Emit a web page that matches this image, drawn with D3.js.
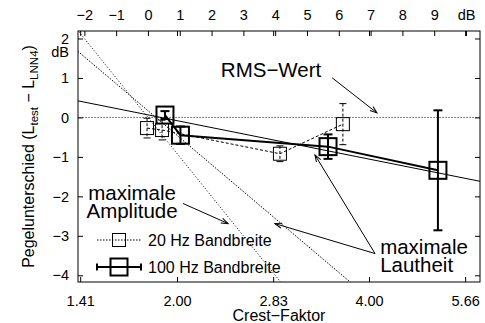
<!DOCTYPE html>
<html>
<head>
<meta charset="utf-8">
<script src="https://cdn.jsdelivr.net/npm/d3@7"></script>
<style>
  body { margin: 0; background: #fff; }
  svg { display: block; font-family: "Liberation Sans", Arial, sans-serif; }
</style>
</head>
<body>
<svg id="chart" width="485" height="323"></svg>
<script>
/* measured points: crest factor, level difference (dB), half error bar */
const cf20 = [1.795, 1.895, 2.90, 3.64]
const diff20 = [-0.27, -0.32, -0.92, -0.17]
const err20 = [0.25, 0.25, 0.2, 0.52]
const cf100 = [1.915, 2.025, 3.45, 5.13]
const diff100 = [0.06, -0.45, -0.74, -1.34]
const err100 = [0.1, 0.22, 0.31, 1.52]

/* model lines, x in dB on the top axis */
const rmsLine = [[-3, 0], [11, 0]]
const amplitudeLine = [[-3, 3], [6, -6]]
const loudnessLine20 = [[-3, 2.22], [7, -4.61]]
const loudnessLine100 = [[-2.2, 0.42], [10.45, -1.62]]

/* ticks */
const cfTicks = [1.41, 2.00, 2.83, 4.00, 5.66]
const dbTicks = d3.range(-2, 11)
const yTicks = d3.range(-4, 3)

/* annotations, anchored in data units (top dB, level dB) */
const notes = [
  { lines: ["RMS−Wert"], d: 3.87, v: 1.03, anchor: "middle" },
  { lines: ["maximale", "Amplitude"], d: -0.5, v: -2.10, anchor: "middle" },
  { lines: ["maximale", "Lautheit"], d: 7.30, v: -3.45, anchor: "start" }
]
const arrows = [
  [[5.79, 1.005], [7.2, 0.115]],
  [[1.10, -2.18], [2.52, -2.69]],
  [[7.14, -3.45], [3.99, -2.69]],
  [[7.14, -3.45], [5.25, -0.95]]
]

const marginTop = 31
const marginRight = 5
const marginBottom = 41
const marginLeft = 78
const width = 485
const height = 323

const svg = d3.select("#chart")

const x = d3.scaleLog([Math.SQRT2, 4 * Math.SQRT2], [81, 465])
const xDb = d3.scaleLinear([-2.2, 10.44], [marginLeft, width - marginRight])
const y = d3.scaleLinear([-4.17, 2.19], [height - marginBottom, marginTop])

svg.append("clipPath")
  .attr("id", "cut")
  .append("rect")
  .attr("x", marginLeft)
  .attr("y", marginTop)
  .attr("width", width - marginLeft - marginRight)
  .attr("height", height - marginTop - marginBottom)

const marker = svg.append("defs").append("marker")
  .attr("id", "arr")
  .attr("viewBox", "-9 -5 10 10")
  .attr("refX", 0).attr("refY", 0)
  .attr("markerWidth", 10).attr("markerHeight", 10)
  .attr("markerUnits", "userSpaceOnUse")
  .attr("orient", "auto")
marker.append("path")
  .attr("d", "M-7,-2.5L0,0L-7,2.5")
  .attr("fill", "none")
  .attr("stroke", "black")
  .attr("stroke-width", 1)

const fontTick = 14.5

/* axes: ticks point inward, domain drawn by frame */
function styleAxis(g) {
  g.select(".domain").remove()
  g.selectAll(".tick line").attr("stroke", "black")
  g.selectAll(".tick text").attr("font-size", fontTick).attr("font-family", null).attr("fill", "black")
}

svg.append("g")
  .attr("transform", `translate(0,${height - marginBottom})`)
  .call(d3.axisBottom(x).tickValues(cfTicks).tickSize(-5).tickFormat(d3.format(".2f")))
  .call(styleAxis)
  .call(g => g.selectAll(".tick text").attr("y", 24).attr("dy", 0))

svg.append("g")
  .attr("transform", `translate(0,${marginTop})`)
  .call(d3.axisTop(x).tickValues(cfTicks).tickSize(-5).tickFormat(""))
  .call(styleAxis)

svg.append("g")
  .attr("transform", `translate(0,${marginTop})`)
  .call(d3.axisTop(xDb).tickValues(dbTicks).tickSize(-5)
    .tickFormat(d => d === 10 ? "dB" : d3.format("d")(d)))
  .call(styleAxis)
  .call(g => g.selectAll(".tick text").attr("y", -11).attr("dy", 0))

svg.append("g")
  .attr("transform", `translate(${marginLeft},0)`)
  .call(d3.axisLeft(y).tickValues(yTicks).tickSize(-5).tickPadding(9).tickFormat(d3.format("d")))
  .call(styleAxis)

svg.append("g")
  .attr("transform", `translate(${width - marginRight},0)`)
  .call(d3.axisRight(y).tickValues(yTicks).tickSize(-5).tickFormat(""))
  .call(styleAxis)

svg.append("text")
  .attr("x", marginLeft - 9)
  .attr("y", y(2) + 19)
  .attr("text-anchor", "end")
  .attr("font-size", fontTick)
  .text("dB")

svg.append("rect")
  .attr("x", marginLeft)
  .attr("y", marginTop)
  .attr("width", width - marginLeft - marginRight)
  .attr("height", height - marginTop - marginBottom)
  .attr("fill", "none")
  .attr("stroke", "black")
  .attr("stroke-width", 1)

/* axis titles */
svg.append("text")
  .attr("x", (marginLeft + width - marginRight) / 2)
  .attr("y", 320.5)
  .attr("text-anchor", "middle")
  .attr("font-size", 16)
  .text("Crest−Faktor")

const ylab = svg.append("text")
  .attr("transform", `translate(34,${(marginTop + height - marginBottom) / 2}) rotate(-90)`)
  .attr("text-anchor", "middle")
  .attr("font-size", 16)
ylab.append("tspan").text("Pegelunterschied (L")
ylab.append("tspan").attr("font-size", 11.5).attr("dy", 4).text("test")
ylab.append("tspan").attr("dy", -4).text(" − L")
ylab.append("tspan").attr("font-size", 11.5).attr("dy", 4).text("LNN4")
ylab.append("tspan").attr("dy", -4).text(")")

/* model lines */
const dbLine = d3.line().x(d => xDb(d[0])).y(d => y(d[1]))
const models = [
  { data: rmsLine, dash: "1,2", w: 1 },
  { data: amplitudeLine, dash: "1,2", w: 1 },
  { data: loudnessLine20, dash: "1.5,1.5", w: 1 },
  { data: loudnessLine100, dash: null, w: 1 }
]
svg.append("g")
  .attr("clip-path", "url(#cut)")
  .selectAll("path")
  .data(models)
  .join("path")
  .attr("fill", "none")
  .attr("stroke", "black")
  .attr("stroke-width", d => d.w)
  .attr("stroke-dasharray", d => d.dash)
  .attr("d", d => dbLine(d.data))

/* measured series */
function drawSeries(cf, diff, err, opt) {
  const pts = cf.map((c, i) => ({ c, v: diff[i], e: err[i] }))
  const g = svg.append("g").attr("clip-path", "url(#cut)")
  g.append("path")
    .attr("fill", "none")
    .attr("stroke", "black")
    .attr("stroke-width", opt.w)
    .attr("stroke-dasharray", opt.dash)
    .attr("d", d3.line().x(d => x(d.c)).y(d => y(d.v))(pts))
  const bars = g.selectAll("g.bar").data(pts).join("g")
    .attr("stroke", "black")
    .attr("stroke-width", opt.w)
    .attr("fill", "none")
  bars.append("line")
    .attr("stroke-dasharray", opt.dash)
    .attr("x1", d => x(d.c)).attr("x2", d => x(d.c))
    .attr("y1", d => y(d.v + d.e)).attr("y2", d => y(d.v - d.e))
  bars.append("line")
    .attr("x1", d => x(d.c) - opt.cap).attr("x2", d => x(d.c) + opt.cap)
    .attr("y1", d => y(d.v + d.e)).attr("y2", d => y(d.v + d.e))
  bars.append("line")
    .attr("x1", d => x(d.c) - opt.cap).attr("x2", d => x(d.c) + opt.cap)
    .attr("y1", d => y(d.v - d.e)).attr("y2", d => y(d.v - d.e))
  bars.append("rect")
    .attr("x", d => x(d.c) - opt.size / 2)
    .attr("y", d => y(d.v) - opt.size / 2)
    .attr("width", opt.size)
    .attr("height", opt.size)
}

const style20 = { w: 1, dash: "3,2", cap: 3.5, size: 13 }
const style100 = { w: 2, dash: null, cap: 4.5, size: 17 }
drawSeries(cf20, diff20, err20, style20)
drawSeries(cf100, diff100, err100, style100)

/* legend */
const legend = svg.append("g")
const legendRows = [
  { label: "20 Hz Bandbreite", st: style20, yy: 240, dash: "1.5,1.5" },
  { label: "100 Hz Bandbreite", st: style100, yy: 267, dash: null }
]
for (const r of legendRows) {
  legend.append("line")
    .attr("x1", 97).attr("x2", 141).attr("y1", r.yy).attr("y2", r.yy)
    .attr("stroke", "black").attr("stroke-width", r.st.w).attr("stroke-dasharray", r.dash)
  if (!r.dash) {
    for (const xx of [97, 141]) {
      legend.append("line")
        .attr("x1", xx).attr("x2", xx).attr("y1", r.yy - 3.5).attr("y2", r.yy + 3.5)
        .attr("stroke", "black").attr("stroke-width", r.st.w)
    }
  }
  legend.append("rect")
    .attr("x", 119 - r.st.size / 2).attr("y", r.yy - r.st.size / 2)
    .attr("width", r.st.size).attr("height", r.st.size)
    .attr("fill", "none").attr("stroke", "black").attr("stroke-width", r.st.w)
  legend.append("text")
    .attr("x", 148).attr("y", r.yy + 6)
    .attr("font-size", 16)
    .text(r.label)
}

/* annotations */
for (const n of notes) {
  const t = svg.append("text")
    .attr("x", xDb(n.d))
    .attr("y", y(n.v))
    .attr("text-anchor", n.anchor)
    .attr("font-size", 20.5)
  n.lines.forEach((s, i) => {
    t.append("tspan").attr("x", xDb(n.d)).attr("dy", i === 0 ? 0 : 18).text(s)
  })
}

svg.append("g")
  .selectAll("line")
  .data(arrows)
  .join("line")
  .attr("x1", d => xDb(d[0][0])).attr("y1", d => y(d[0][1]))
  .attr("x2", d => xDb(d[1][0])).attr("y2", d => y(d[1][1]))
  .attr("stroke", "black")
  .attr("stroke-width", 1)
  .attr("marker-end", "url(#arr)")
</script>
</body>
</html>
